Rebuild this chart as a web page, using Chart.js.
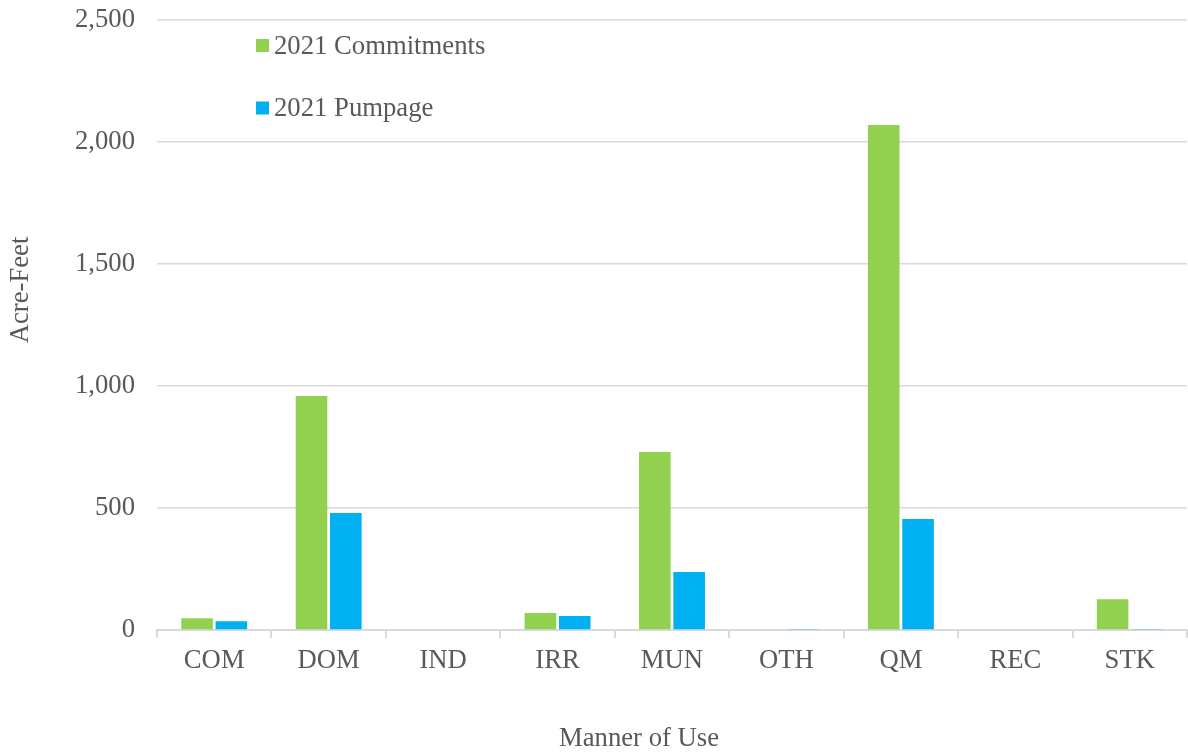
<!DOCTYPE html>
<html>
<head>
<meta charset="utf-8">
<script src="https://cdn.jsdelivr.net/npm/chart.js@4/dist/chart.umd.min.js"></script>
<style>
  html, body { margin: 0; padding: 0; background: #fff; }
  #wrap { width: 1188px; height: 755px; position: relative; }
</style>
</head>
<body>
<div id="wrap"><canvas id="c" width="1188" height="755"></canvas></div>
<script>
const categories = ["COM", "DOM", "IND", "IRR", "MUN", "OTH", "QM", "REC", "STK"];
const commitments = [48, 959, 0, 70, 730, 0, 2070, 0, 126];
const pumpage = [36, 480, 0, 57, 238, 4, 455, 0, 2];
const seriesLabels = ["2021 Commitments", "2021 Pumpage"];
const yTicks = [0, 500, 1000, 1500, 2000, 2500];
const xTitle = "Manner of Use";
const yTitle = "Acre-Feet";

const FONT = "'Liberation Serif', 'Times New Roman', serif";
const FS = 26.7;
const TXT = "#595959";

const textPlugin = {
  id: 'insideLegend',
  afterDraw(chart) {
    const ctx = chart.ctx;
    ctx.save();
    ctx.font = FS + "px " + FONT;
    ctx.textBaseline = "middle";
    ctx.textAlign = "left";
    const ys = [45.5, 108];
    chart.data.datasets.forEach((ds, i) => {
      ctx.fillStyle = ds.backgroundColor;
      ctx.fillRect(256, ys[i] - 6.5, 13, 13);
      ctx.fillStyle = TXT;
      ctx.fillText(ds.label, 274, ys[i] + 1);
    });
    // axis titles
    ctx.textAlign = "center";
    ctx.fillText(xTitle, 639, 739);
    ctx.translate(21, 290);
    ctx.rotate(-Math.PI / 2);
    ctx.fillText(yTitle, 0, 0);
    ctx.restore();
  }
};

new Chart(document.getElementById('c'), {
  type: 'bar',
  data: {
    labels: categories,
    datasets: [
      { label: seriesLabels[0], data: commitments, backgroundColor: "#92D050", categoryPercentage: 0.6, barPercentage: 0.92 },
      { label: seriesLabels[1], data: pumpage, backgroundColor: "#00B0F0", categoryPercentage: 0.6, barPercentage: 0.92 }
    ]
  },
  options: {
    responsive: false,
    animation: false,
    layout: { padding: { top: 20, right: 1, bottom: 0, left: 0 } },
    plugins: { legend: { display: false }, tooltip: { enabled: false } },
    scales: {
      x: {
        grid: { display: true, drawOnChartArea: false, drawTicks: true, tickLength: 8, color: "#d9d9d9", lineWidth: 2, offset: true },
        border: { display: true, color: "#d9d9d9", width: 2 },
        ticks: { color: TXT, font: { family: FONT, size: FS }, padding: 7, maxRotation: 0 },
        afterFit(s) { s.height = 125; s.paddingLeft = 0; s.paddingRight = 0; }
      },
      y: {
        min: 0, max: 2500,
        afterBuildTicks(s) { s.ticks = yTicks.map(v => ({ value: v })); },
        grid: { color: "#d9d9d9", lineWidth: 1.5, drawTicks: false },
        border: { display: false },
        ticks: {
          color: TXT, font: { family: FONT, size: FS }, padding: 22,
          callback: v => v.toLocaleString('en-US')
        },
        afterFit(s) { s.width = 157; s.paddingTop = 0; s.paddingBottom = 0; }
      }
    }
  },
  plugins: [textPlugin]
});
</script>
</body>
</html>
